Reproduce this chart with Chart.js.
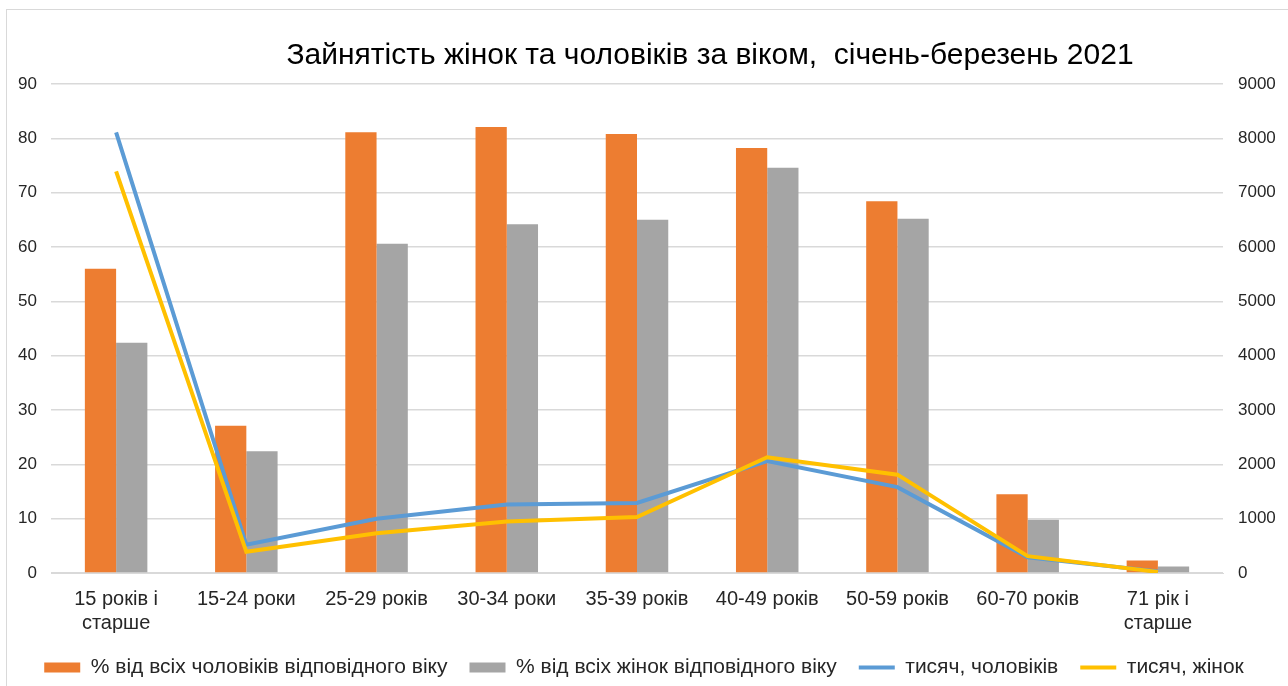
<!DOCTYPE html>
<html>
<head>
<meta charset="utf-8">
<script src="https://cdn.jsdelivr.net/npm/chart.js@4"></script>
<style>
  html, body { margin: 0; padding: 0; background: #fff; overflow: hidden; }
  #frame { position: absolute; left: 6px; top: 9px; width: 1300px; height: 700px; border: 1px solid #d9d9d9; }
  #wrap { position: absolute; left: 0; top: 0; width: 1288px; height: 686px; }
</style>
</head>
<body>
<div id="frame"></div>
<div id="wrap"><canvas id="employment-chart"></canvas></div>
<script>
// Categories (age groups)
const ageGroups = [
    ['15 років і', 'старше'], '15-24 роки', '25-29 років', '30-34 роки', '35-39 років',
    '40-49 років', '50-59 років', '60-70 років', ['71 рік і', 'старше']
];

// % of all men / women of the corresponding age (left axis)
const menPercent = [56.0, 27.1, 81.1, 82.1, 80.8, 78.2, 68.4, 14.5, 2.3];
const womenPercent = [42.4, 22.4, 60.6, 64.2, 65.0, 74.6, 65.2, 9.8, 1.2];

// thousands of people (right axis)
const menThousands = [8110, 520, 1000, 1260, 1290, 2060, 1580, 290, 30];
const womenThousands = [7390, 390, 730, 950, 1030, 2130, 1810, 310, 20];

const chartTitle = 'Зайнятість жінок та чоловіків за віком,  січень-березень 2021';

const textColor = '#262626';
const gridColor = '#d9d9d9';

// Title is drawn a bit right of the canvas center, like in the original
const titlePlugin = {
    id: 'offsetTitle',
    afterDraw(chart) {
        const c = chart.ctx;
        c.save();
        c.font = '30px "Liberation Sans", Arial, sans-serif';
        c.fillStyle = '#000';
        c.textAlign = 'center';
        c.textBaseline = 'middle';
        c.fillText(chartTitle, 710, 56);
        c.restore();
    }
};

const ctx = document.getElementById('employment-chart').getContext('2d');

new Chart(ctx, {
    type: 'bar',
    data: {
        labels: ageGroups,
        datasets: [
            {
                label: '% від всіх чоловіків відповідного віку',
                data: menPercent,
                backgroundColor: '#ED7D31',
                yAxisID: 'y',
                order: 2
            },
            {
                label: '% від всіх жінок відповідного віку',
                data: womenPercent,
                backgroundColor: '#A5A5A5',
                yAxisID: 'y',
                order: 2
            },
            {
                type: 'line',
                label: 'тисяч, чоловіків',
                data: menThousands,
                borderColor: '#5B9BD5',
                backgroundColor: '#5B9BD5',
                borderWidth: 4,
                pointRadius: 0,
                tension: 0,
                yAxisID: 'y1',
                order: 1
            },
            {
                type: 'line',
                label: 'тисяч, жінок',
                data: womenThousands,
                borderColor: '#FFC000',
                backgroundColor: '#FFC000',
                borderWidth: 4,
                pointRadius: 0,
                tension: 0,
                yAxisID: 'y1',
                order: 0
            }
        ]
    },
    options: {
        responsive: true,
        maintainAspectRatio: false,
        animation: false,
        layout: { padding: { top: 84, bottom: -2, left: 0, right: 0 } },
        datasets: {
            bar: { categoryPercentage: 0.48, barPercentage: 1.0 }
        },
        plugins: {
            title: { display: false },
            tooltip: { enabled: false },
            legend: {
                display: true,
                position: 'bottom',
                labels: {
                    color: textColor,
                    font: { family: '"Liberation Sans Narrow", "Arial Narrow", sans-serif', size: 21 },
                    usePointStyle: true,
                    pointStyleWidth: 36,
                    boxHeight: 10,
                    padding: 22,
                    sort: (a, b) => a.datasetIndex - b.datasetIndex,
                    generateLabels(chart) {
                        const items = Chart.defaults.plugins.legend.labels.generateLabels(chart);
                        items.forEach(item => {
                            const ds = chart.data.datasets[item.datasetIndex];
                            if (ds.type === 'line') {
                                item.pointStyle = 'line';
                                item.lineWidth = 4;
                            } else {
                                item.pointStyle = 'rect';
                                item.lineWidth = 0;
                            }
                        });
                        return items;
                    }
                }
            }
        },
        scales: {
            x: {
                grid: { display: false, drawTicks: false },
                border: { display: true, color: gridColor },
                ticks: {
                    color: textColor,
                    font: { family: '"Liberation Sans", Arial, sans-serif', size: 20 },
                    padding: 14,
                    maxRotation: 0,
                    autoSkip: false
                },
                afterFit(scale) { scale.height = 62; }
            },
            y: {
                position: 'left',
                min: 0,
                max: 90,
                ticks: {
                    stepSize: 10,
                    color: textColor,
                    font: { family: '"Liberation Sans", Arial, sans-serif', size: 17 },
                    padding: 14
                },
                grid: { color: gridColor, lineWidth: 1.5, drawTicks: false },
                border: { display: false },
                afterFit(scale) { scale.width = 51; }
            },
            y1: {
                position: 'right',
                min: 0,
                max: 9000,
                ticks: {
                    stepSize: 1000,
                    color: textColor,
                    font: { family: '"Liberation Sans", Arial, sans-serif', size: 17 },
                    padding: 15,
                    callback: value => String(value)
                },
                grid: { display: false, drawTicks: false },
                border: { display: false },
                afterFit(scale) { scale.width = 65; }
            }
        }
    },
    plugins: [titlePlugin]
});
</script>
</body>
</html>
